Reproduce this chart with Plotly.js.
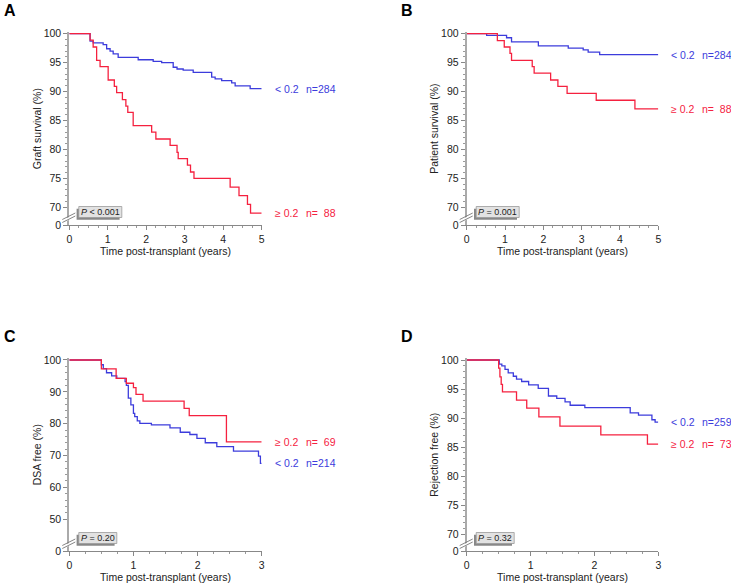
<!DOCTYPE html>
<html><head><meta charset="utf-8">
<script src="https://cdn.plot.ly/plotly-3.0.1.min.js"></script>
<style>html,body{margin:0;padding:0;background:#fff}#chart{width:731px;height:584px}</style>
</head><body><div id="chart"></div>
<script>
// ---------- DATA ----------
// Panel A: graft survival
const graftLowT  = [0, 0.54, 0.62, 0.88, 0.97, 1.06, 1.14, 1.27, 1.79, 2.18, 2.40, 2.70, 2.80, 2.96, 3.22, 3.70, 3.79, 3.96, 4.22, 4.31, 4.70, 5.0];
const graftLowS  = [100, 98.7, 98.4, 98.1, 97.4, 97.0, 96.5, 95.9, 95.5, 95.2, 95.0, 94.2, 93.9, 93.7, 93.3, 92.5, 92.2, 91.9, 91.5, 91.0, 90.5, 90.5];
const graftHighT = [0, 0.54, 0.62, 0.71, 0.80, 1.01, 1.17, 1.23, 1.38, 1.47, 1.52, 1.66, 2.14, 2.25, 2.62, 2.80, 2.83, 3.07, 3.15, 3.24, 4.18, 4.41, 4.63, 4.71, 5.0];
const graftHighS = [100, 98.9, 97.7, 95.4, 94.3, 92.0, 90.9, 89.8, 88.6, 87.5, 86.4, 84.1, 83.0, 81.8, 80.7, 79.5, 78.4, 77.3, 76.1, 75.0, 73.5, 72.0, 70.5, 69.0, 69.0];
// Panel B: patient survival
const patientLowT  = [0, 0.52, 1.04, 1.17, 1.87, 2.65, 3.04, 3.17, 3.47, 5.0];
const patientLowS  = [100, 99.7, 99.3, 98.6, 97.9, 97.5, 97.2, 96.8, 96.4, 96.4];
const patientHighT = [0, 0.80, 0.98, 1.13, 1.17, 1.71, 1.76, 2.19, 2.38, 2.62, 3.38, 4.39, 5.0];
const patientHighS = [100, 98.8, 97.7, 96.6, 95.4, 94.3, 93.2, 92.0, 90.9, 89.7, 88.5, 87.0, 87.0];
// Panel C: DSA free
const dsaLowT  = [0, 0.50, 0.53, 0.58, 0.66, 0.74, 0.87, 0.89, 0.92, 0.96, 1.00, 1.02, 1.06, 1.10, 1.28, 1.57, 1.73, 1.88, 1.99, 2.12, 2.30, 2.56, 2.95, 2.98, 3.0];
const dsaLowS  = [100, 98.5, 97.3, 96.0, 95.0, 94.2, 93.2, 92.0, 88.0, 85.9, 83.2, 82.2, 80.9, 80.1, 79.6, 78.7, 77.3, 76.6, 75.4, 74.0, 72.8, 71.4, 69.8, 67.5, 67.5];
const dsaHighT = [0, 0.50, 0.73, 0.89, 1.00, 1.04, 1.15, 1.79, 1.87, 2.45, 3.0];
const dsaHighS = [100, 97.2, 94.2, 92.7, 91.3, 89.2, 87.1, 84.8, 82.5, 74.3, 74.3];
// Panel D: rejection free
const rejLowT  = [0, 0.51, 0.55, 0.60, 0.65, 0.73, 0.78, 0.86, 0.97, 1.12, 1.28, 1.41, 1.54, 1.62, 1.85, 2.56, 2.69, 2.90, 2.95, 3.0];
const rejLowS  = [100, 99.3, 99.0, 98.4, 97.8, 97.2, 96.7, 96.3, 95.7, 95.1, 93.8, 93.4, 92.8, 92.2, 91.8, 90.9, 90.5, 89.7, 89.3, 89.3];
const rejHighT = [0, 0.50, 0.52, 0.54, 0.56, 0.78, 0.94, 1.13, 1.46, 2.10, 2.83, 3.0];
const rejHighS = [100, 98.6, 97.1, 95.8, 94.5, 93.1, 91.7, 90.2, 88.6, 87.1, 85.5, 85.5];

// Labels
const panelLetters = ['A', 'B', 'C', 'D'];
const yTitles = ['Graft survival (%)', 'Patient survival (%)', 'DSA free (%)', 'Rejection free (%)'];
const xTitle = 'Time post-transplant (years)';
const groupLow = '&lt; 0.2';
const groupHigh = '\u2265 0.2';
const nLow  = ['284', '284', '214', '259'];
const nHigh = ['88', '88', '69', '73'];
const pTexts = ['<i>P</i> &lt; 0.001', '<i>P</i> = 0.001', '<i>P</i> = 0.20', '<i>P</i> = 0.32'];
const xTicks5 = [0, 1, 2, 3, 4, 5];
const xTicks3 = [0, 1, 2, 3];
const yTicks5 = [70, 75, 80, 85, 90, 95, 100];
const yTicks10 = [50, 60, 70, 80, 90, 100];

// ---------- STYLE / LAYOUT ----------
const W = 731, H = 584;
const BLUE = '#3c3cdc', RED = '#f5213f';
const FONT = 'Liberation Sans, Arial, Helvetica, sans-serif';
const FS = 10.5;
const px = x => x / W, py = y => 1 - y / H;

const panels = [
  {T: [graftLowT, graftHighT], S: [graftLowS, graftHighS], xmax: 5, xt: xTicks5, yt: yTicks5, ybreak: 66.94, ytop: 100.25, ymin: 1,
   xdom: [69.3, 261.7], ydom: [225, 32.25]},
  {T: [patientLowT, patientHighT], S: [patientLowS, patientHighS], xmax: 5, xt: xTicks5, yt: yTicks5, ybreak: 66.94, ytop: 100.25, ymin: 1,
   xdom: [466.7, 658.3], ydom: [225, 32.25]},
  {T: [dsaLowT, dsaHighT], S: [dsaLowS, dsaHighS], xmax: 3, xt: xTicks3, yt: yTicks10, ybreak: 40, ytop: 100.5, ymin: 2,
   xdom: [69.3, 261.7], ydom: [551, 358.4]},
  {T: [rejLowT, rejHighT], S: [rejLowS, rejHighS], xmax: 3, xt: xTicks3, yt: yTicks5, ybreak: 67.07, ytop: 100.28, ymin: 1,
   xdom: [466.7, 658.3], ydom: [551, 358.4]}
];

const traces = [];
const layout = {
  width: W, height: H, margin: {l: 0, r: 0, t: 0, b: 0},
  paper_bgcolor: '#fff', plot_bgcolor: 'rgba(0,0,0,0)',
  showlegend: false, font: {family: FONT, size: FS, color: '#222'},
  annotations: [], shapes: []
};

panels.forEach((p, i) => {
  const k = i === 0 ? '' : String(i + 1);
  const xa = 'x' + k, ya = 'y' + k;
  [0, 1].forEach(g => {
    traces.push({
      x: p.T[g], y: p.S[g], xaxis: xa, yaxis: ya, type: 'scatter', mode: 'lines',
      line: {shape: 'hv', color: g === 0 ? BLUE : RED, width: 1.3}, hoverinfo: 'skip'
    });
  });
  const minorX = [];
  for (let v = 0.25; v < p.xmax; v += 0.25) if (Math.abs(v - Math.round(v)) > 1e-6) minorX.push(v);
  const minorY = [];
  const step = p.yt[1] - p.yt[0];
  for (let v = p.yt[0] + p.ymin; v < 100; v += p.ymin) if (Math.abs((v - p.yt[0]) % step) > 1e-6) minorY.push(v);

  layout['xaxis' + k] = {
    domain: [px(p.xdom[0]), px(p.xdom[1])], anchor: ya, range: [0, p.xmax],
    tickmode: 'array', tickvals: p.xt, ticktext: p.xt.map(String),
    showline: true, linecolor: '#888', linewidth: 1, ticks: 'outside', ticklen: 4, tickwidth: 1, tickcolor: '#888',
    tickfont: {size: FS, color: '#222'}, showgrid: false, zeroline: false, fixedrange: true,
    minor: {tickmode: 'array', tickvals: minorX, ticks: 'outside', ticklen: 2, tickcolor: '#999', showgrid: false},
    title: {text: xTitle, font: {size: FS, color: '#222'}, standoff: 2}
  };
  layout['yaxis' + k] = {
    domain: [py(p.ydom[0]), py(p.ydom[1])], anchor: xa, range: [p.ybreak, p.ytop],
    tickmode: 'array', tickvals: [p.ybreak].concat(p.yt), ticktext: ['0'].concat(p.yt.map(String)),
    showline: true, linecolor: '#aaa', linewidth: 2, ticks: 'outside', ticklen: 4, tickwidth: 1, tickcolor: '#888',
    tickfont: {size: FS, color: '#222'}, showgrid: false, zeroline: false, fixedrange: true,
    minor: {tickmode: 'array', tickvals: minorY, ticks: 'outside', ticklen: 2, tickcolor: '#999', showgrid: false},
    title: {text: yTitles[i], font: {size: FS, color: '#222'}, standoff: 0}
  };

  // Group labels at curve ends
  const lastLow = p.S[0][p.S[0].length - 1], lastHigh = p.S[1][p.S[1].length - 1];
  const lab = (txt, yv, col, shift) => layout.annotations.push({
    xref: xa, yref: ya, x: p.xmax, y: yv, xanchor: 'left', yanchor: 'middle', xshift: shift,
    text: txt, showarrow: false, font: {size: FS, color: col, family: FONT}
  });
  lab(groupLow, lastLow, BLUE, 11);
  lab('n=' + nLow[i], lastLow, BLUE, 42);
  lab(groupHigh, lastHigh, RED, 11);
  lab('n=' + (nHigh[i].length < 3 ? '\u00a0\u00a0' : '') + nHigh[i], lastHigh, RED, 42);

  // Panel letter
  layout.annotations.push({
    xref: 'paper', yref: 'paper', x: px(i % 2 === 0 ? 1.5 : 398.5), y: py(i < 2 ? 10.5 : 336.7),
    xanchor: 'left', yanchor: 'middle', text: '<b>' + panelLetters[i] + '</b>', showarrow: false,
    font: {size: 16, color: '#000', family: FONT}
  });

  // P-value box with shadow
  const ax = p.xdom[0], bottom = p.ydom[0];
  const bx0 = ax + 9.5, bw = (i === 0 || i === 1) ? 43 : 38;
  const by1 = bottom - 7.5, by0 = by1 - 11;
  layout.shapes.push({type: 'rect', xref: 'paper', yref: 'paper', x0: px(bx0 - 2.2), x1: px(bx0 - 2.2 + bw), y0: py(by1 + 2.2), y1: py(by0 + 2.2),
    fillcolor: '#888', line: {width: 0}, layer: 'above'});
  layout.shapes.push({type: 'rect', xref: 'paper', yref: 'paper', x0: px(bx0), x1: px(bx0 + bw), y0: py(by1), y1: py(by0),
    fillcolor: '#e2e2e2', line: {width: 0.8, color: '#9a9a9a'}, layer: 'above'});
  layout.annotations.push({xref: 'paper', yref: 'paper', x: px(bx0 + bw / 2), y: py((by0 + by1) / 2),
    xanchor: 'center', yanchor: 'middle', text: pTexts[i], showarrow: false, font: {size: 9, color: '#222', family: FONT}});

  // Axis break marks
  const cx = ax, cy = bottom - 9;
  layout.shapes.push({type: 'path', xref: 'paper', yref: 'paper',
    path: `M${px(cx - 3)},${py(cy + 2.4)} L${px(cx + 3)},${py(cy - 0.6)} L${px(cx + 3)},${py(cy + 2.2)} L${px(cx - 3)},${py(cy + 5.2)} Z`,
    fillcolor: '#fff', line: {width: 0}, layer: 'above'});
  [[0, 0], [0, 3]].forEach(o => {
    layout.shapes.push({type: 'line', xref: 'paper', yref: 'paper',
      x0: px(cx - 7), y0: py(cy + 3.5 + o[1]), x1: px(cx + 6), y1: py(cy - 3 + o[1]),
      line: {color: '#777', width: 0.9}, layer: 'above'});
  });
});

Plotly.newPlot('chart', traces, layout, {displayModeBar: false, staticPlot: true});
</script>
</body></html>
